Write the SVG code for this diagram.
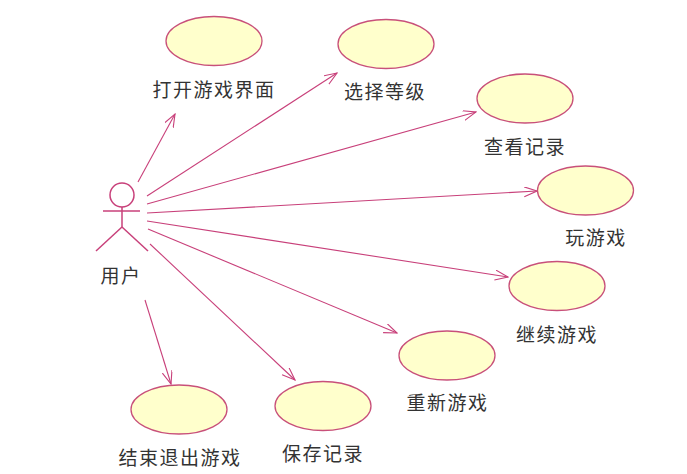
<svg xmlns="http://www.w3.org/2000/svg" width="687" height="474" viewBox="0 0 687 474">
<style>
.uc{fill:#ffffcc;stroke:#c8507a;stroke-width:1.3}
.lbl{font-family:"Noto Sans CJK SC","Noto Sans CJK JP",sans-serif;font-size:19px;fill:#333;text-anchor:middle;letter-spacing:1.5px}
.c{stroke:#c8407a;stroke-width:1.1;fill:none;marker-end:url(#arr)}
.actor{stroke:#c8407a;stroke-width:1.5;fill:none}
</style>
<defs>
<marker id="arr" markerUnits="userSpaceOnUse" markerWidth="14" markerHeight="12" refX="13" refY="5" orient="auto">
<path d="M0,0 L13,5 L0,10" fill="none" stroke="#c8407a" stroke-width="1.1"/>
</marker>
</defs>
<rect width="687" height="474" fill="#ffffff"/>
<g id="actor-user">
<circle class="actor" cx="122" cy="195" r="12"/>
<line class="actor" x1="122" y1="207" x2="122" y2="227"/>
<line class="actor" x1="103" y1="211" x2="140" y2="211"/>
<line class="actor" x1="122" y1="227" x2="96" y2="251"/>
<line class="actor" x1="122" y1="227" x2="148" y2="251"/>
<text class="lbl" x="121" y="283">用户</text>
</g>
<g id="connectors">
<line class="c" x1="138" y1="182" x2="175" y2="114"/>
<line class="c" x1="147" y1="196" x2="337" y2="73"/>
<line class="c" x1="147" y1="204" x2="476" y2="112"/>
<line class="c" x1="147" y1="213" x2="537" y2="191"/>
<line class="c" x1="147" y1="221" x2="508" y2="277"/>
<line class="c" x1="148" y1="229" x2="397" y2="333"/>
<line class="c" x1="150" y1="244" x2="295" y2="380"/>
<line class="c" x1="145" y1="300" x2="171" y2="384"/>
</g>
<g id="uc-open">
<ellipse class="uc" cx="214" cy="41" rx="48" ry="24.5"/>
<text class="lbl" x="214" y="97">打开游戏界面</text>
</g>
<g id="uc-level">
<ellipse class="uc" cx="386" cy="44" rx="48" ry="24.5"/>
<text class="lbl" x="385" y="99">选择等级</text>
</g>
<g id="uc-view">
<ellipse class="uc" cx="525" cy="98.5" rx="48" ry="24.5"/>
<text class="lbl" x="525" y="154">查看记录</text>
</g>
<g id="uc-play">
<ellipse class="uc" cx="585.5" cy="190.5" rx="48" ry="24.5"/>
<text class="lbl" x="596" y="245">玩游戏</text>
</g>
<g id="uc-continue">
<ellipse class="uc" cx="557" cy="286" rx="48" ry="24.5"/>
<text class="lbl" x="557" y="342">继续游戏</text>
</g>
<g id="uc-restart">
<ellipse class="uc" cx="447" cy="355.5" rx="48" ry="24.5"/>
<text class="lbl" x="447.5" y="410">重新游戏</text>
</g>
<g id="uc-save">
<ellipse class="uc" cx="323" cy="406" rx="48" ry="24.5"/>
<text class="lbl" x="323" y="461">保存记录</text>
</g>
<g id="uc-exit">
<ellipse class="uc" cx="179" cy="409.5" rx="48" ry="24.5"/>
<text class="lbl" x="180" y="465">结束退出游戏</text>
</g>
</svg>
